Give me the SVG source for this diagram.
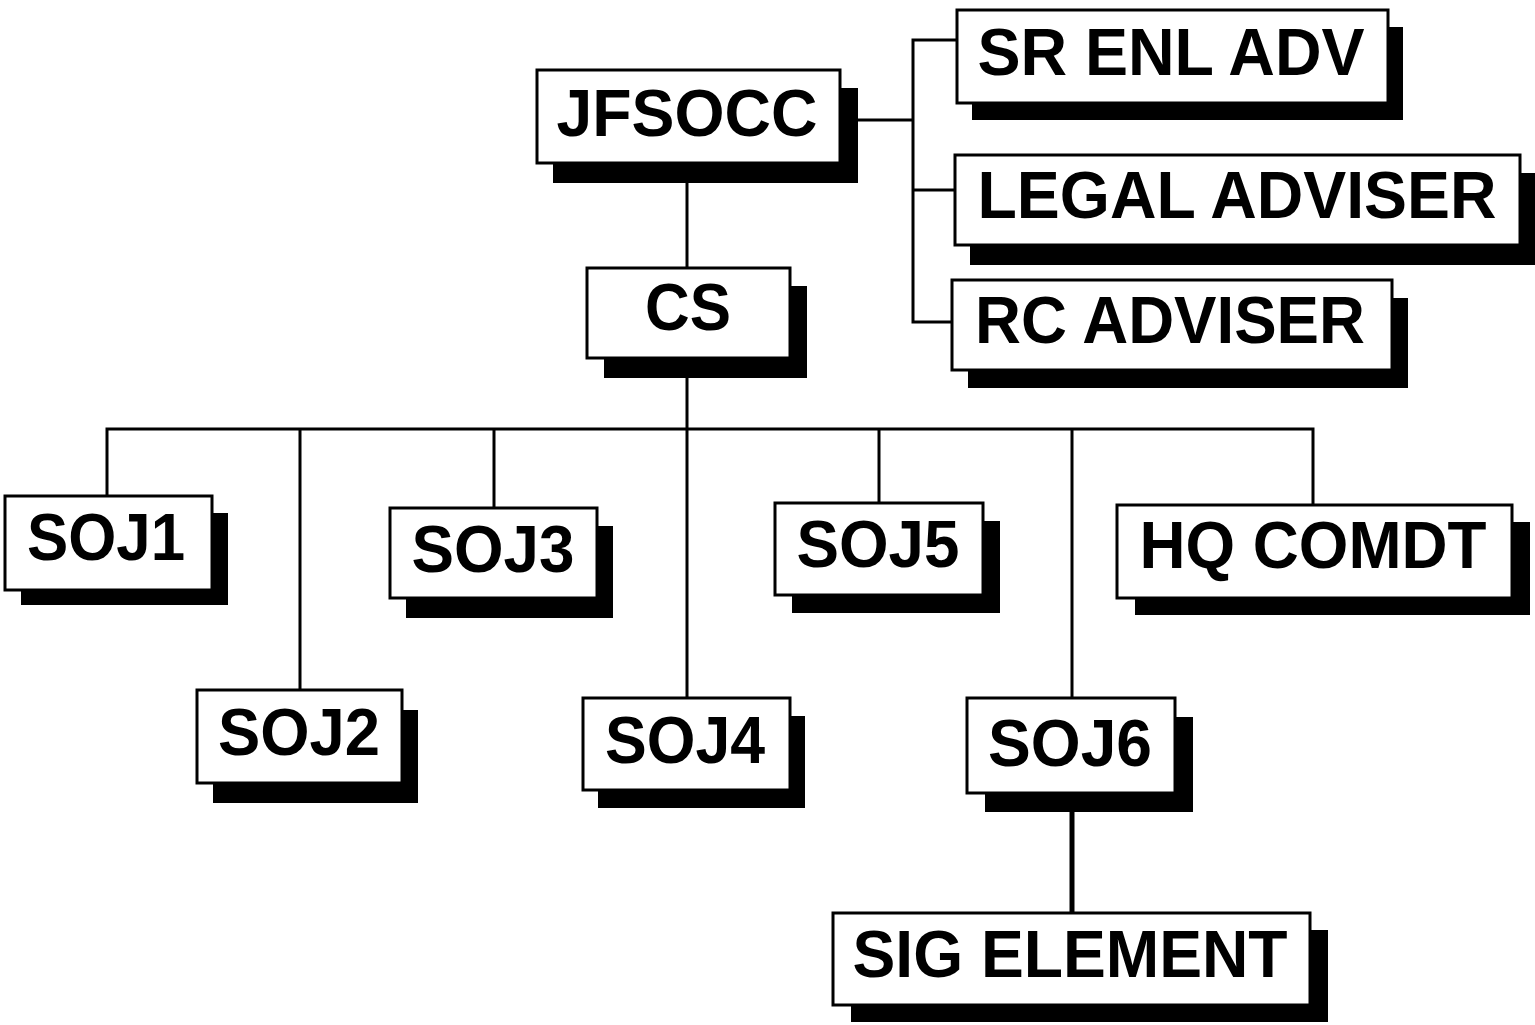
<svg xmlns="http://www.w3.org/2000/svg" width="1535" height="1025" viewBox="0 0 1535 1025">
<style>
.bg{fill:#ffffff}
.sh{fill:#000000}
.bx{fill:#ffffff;stroke:#000000;stroke-width:3}
.t{font-family:"Liberation Sans",Arial,sans-serif;font-weight:bold;font-size:66px;fill:#000000;text-anchor:middle}
.c{fill:none;stroke:#000000;stroke-width:3}
.ck{fill:none;stroke:#000000;stroke-width:5}
</style>
<rect class="bg" x="0" y="0" width="1535" height="1025"/>
<g id="connectors">
<line class="c" x1="687" y1="163" x2="687" y2="268"/>
<line class="c" x1="687" y1="358" x2="687" y2="698"/>
<path class="c" d="M107,496 V429 H1313 V505"/>
<line class="c" x1="300" y1="429" x2="300" y2="690"/>
<line class="c" x1="494" y1="429" x2="494" y2="508"/>
<line class="c" x1="879" y1="429" x2="879" y2="503"/>
<line class="c" x1="1072" y1="429" x2="1072" y2="698"/>
<line class="ck" x1="1072" y1="812" x2="1072" y2="913"/>
<line class="c" x1="840" y1="120" x2="913" y2="120"/>
<path class="c" d="M957,40 H913 V322 H952"/>
<line class="c" x1="913" y1="190" x2="955" y2="190"/>
</g>
<g id="JFSOCC"><rect class="sh" x="553" y="88" width="305" height="95"/><rect class="bx" x="537" y="70" width="303" height="93"/><text class="t" x="687" y="136" textLength="261" lengthAdjust="spacingAndGlyphs">JFSOCC</text></g>
<g id="SR_ENL_ADV"><rect class="sh" x="972" y="27" width="431" height="93"/><rect class="bx" x="957" y="10" width="431" height="93"/><text class="t" x="1171" y="75" textLength="387" lengthAdjust="spacingAndGlyphs">SR ENL ADV</text></g>
<g id="LEGAL_ADVISER"><rect class="sh" x="970" y="173" width="565" height="92"/><rect class="bx" x="955" y="155" width="565" height="90"/><text class="t" x="1237" y="218" textLength="519" lengthAdjust="spacingAndGlyphs">LEGAL ADVISER</text></g>
<g id="RC_ADVISER"><rect class="sh" x="968" y="298" width="440" height="90"/><rect class="bx" x="952" y="280" width="440" height="90"/><text class="t" x="1170" y="343" textLength="390" lengthAdjust="spacingAndGlyphs">RC ADVISER</text></g>
<g id="CS"><rect class="sh" x="604" y="286" width="203" height="92"/><rect class="bx" x="587" y="268" width="203" height="90"/><text class="t" x="688" y="330" textLength="86" lengthAdjust="spacingAndGlyphs">CS</text></g>
<g id="SOJ1"><rect class="sh" x="21" y="513" width="207" height="92"/><rect class="bx" x="5" y="496" width="207" height="94"/><text class="t" x="106" y="560" textLength="158" lengthAdjust="spacingAndGlyphs">SOJ1</text></g>
<g id="SOJ2"><rect class="sh" x="213" y="710" width="205" height="93"/><rect class="bx" x="197" y="690" width="205" height="93"/><text class="t" x="299" y="755" textLength="162" lengthAdjust="spacingAndGlyphs">SOJ2</text></g>
<g id="SOJ3"><rect class="sh" x="406" y="526" width="207" height="92"/><rect class="bx" x="390" y="508" width="207" height="90"/><text class="t" x="493" y="572" textLength="163" lengthAdjust="spacingAndGlyphs">SOJ3</text></g>
<g id="SOJ4"><rect class="sh" x="598" y="716" width="207" height="92"/><rect class="bx" x="583" y="698" width="207" height="92"/><text class="t" x="685" y="763" textLength="160" lengthAdjust="spacingAndGlyphs">SOJ4</text></g>
<g id="SOJ5"><rect class="sh" x="792" y="521" width="208" height="92"/><rect class="bx" x="775" y="503" width="208" height="92"/><text class="t" x="878" y="567" textLength="163" lengthAdjust="spacingAndGlyphs">SOJ5</text></g>
<g id="SOJ6"><rect class="sh" x="985" y="717" width="208" height="95"/><rect class="bx" x="967" y="698" width="208" height="95"/><text class="t" x="1070" y="766" textLength="164" lengthAdjust="spacingAndGlyphs">SOJ6</text></g>
<g id="HQ_COMDT"><rect class="sh" x="1135" y="522" width="395" height="93"/><rect class="bx" x="1117" y="505" width="395" height="93"/><text class="t" x="1313" y="568" textLength="347" lengthAdjust="spacingAndGlyphs">HQ COMDT</text></g>
<g id="SIG_ELEMENT"><rect class="sh" x="851" y="930" width="477" height="92"/><rect class="bx" x="833" y="913" width="477" height="92"/><text class="t" x="1070" y="977" textLength="435" lengthAdjust="spacingAndGlyphs">SIG ELEMENT</text></g>
</svg>
